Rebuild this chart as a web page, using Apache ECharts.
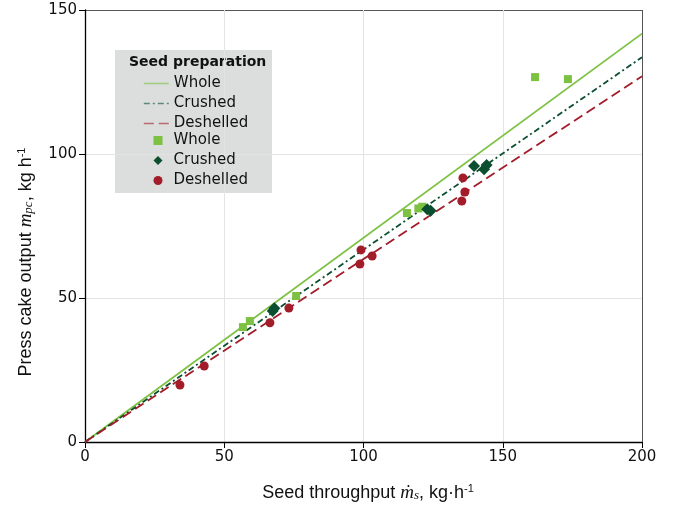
<!DOCTYPE html>
<html>
<head>
<meta charset="utf-8">
<script src="https://cdn.jsdelivr.net/npm/echarts@6/dist/echarts.min.js"></script>
<style>
  html, body { margin: 0; padding: 0; background: #fff; }
  #chart { width: 679px; height: 508px; }
</style>
</head>
<body>
<div id="chart"></div>
<script>
// fitted lines (start and end points at x = 0 and x = 200)
const fitX = [0, 200];
const fitWhole = [0, 141.8];
const fitCrushed = [0, 133.6];
const fitDeshelled = [0, 127.0];

// measured points
const wholeX = [56.7, 59.2, 75.8, 115.6, 119.7, 121.1, 161.6, 173.4];
const wholeY = [39.9, 42.0, 50.7, 79.5, 81.1, 81.7, 126.7, 126.0];
const crushedX = [67.4, 68.0, 122.9, 124.1, 139.7, 143.3, 144.2];
const crushedY = [45.5, 46.4, 80.8, 80.3, 95.8, 94.7, 96.2];
const deshelledX = [34.1, 42.8, 66.4, 73.2, 99.1, 98.7, 103.1, 135.7, 136.4, 135.3];
const deshelledY = [19.8, 26.4, 41.4, 46.5, 66.7, 61.8, 64.6, 91.7, 86.8, 83.7];

const xTicks = [0, 50, 100, 150, 200];
const yTicks = [0, 50, 100, 150];

const cWhole = "#7dc142";
const cCrushed = "#0b4f30";
const cDeshelled = "#a21c2a";

const pairs = (xs, ys) => xs.map((x, i) => [x, ys[i]]);

const chart = echarts.init(document.getElementById("chart"));

const option = {
  animation: false,
  backgroundColor: "#fff",
  grid: { left: 85, right: 37, top: 10, bottom: 66 },
  xAxis: {
    type: "value",
    min: xTicks[0],
    max: xTicks[xTicks.length - 1],
    interval: 50,
    axisLine: { lineStyle: { color: "#000", width: 1.3 } },
    axisTick: { show: true, length: 6, lineStyle: { color: "#000" } },
    axisLabel: { color: "#111", fontSize: 15, fontFamily: "DejaVu Sans", margin: 8 },
    splitLine: { show: true, lineStyle: { color: ["#e4e4e4", "#e4e4e4", "#e4e4e4", "#e4e4e4", "#555"], width: 1 } }
  },
  yAxis: {
    type: "value",
    min: yTicks[0],
    max: yTicks[yTicks.length - 1],
    interval: 50,
    axisLine: { show: true, lineStyle: { color: "#000", width: 1.3 } },
    axisTick: { show: true, length: 6, lineStyle: { color: "#000" } },
    axisLabel: { color: "#111", fontSize: 15, fontFamily: "DejaVu Sans", margin: 8 },
    splitLine: { show: true, lineStyle: { color: ["#e4e4e4", "#e4e4e4", "#e4e4e4", "#555"], width: 1 } }
  },
  legend: [
    {
      // fitted lines
      orient: "vertical",
      left: 143,
      top: 76,
      itemWidth: 25,
      itemHeight: 14,
      itemGap: 5,
      padding: 0,
      itemStyle: { opacity: 0 },
      lineStyle: { opacity: 0.6, width: 1.6 },
      data: ["Whole", "Crushed", "Deshelled"],
      textStyle: { fontSize: 15, fontFamily: "DejaVu Sans", color: "#111" }
    },
    {
      // measured points
      orient: "vertical",
      left: 153.5,
      top: 133,
      itemWidth: 9,
      itemHeight: 9,
      itemGap: 5,
      padding: 0,
      data: ["Whole ", "Crushed ", "Deshelled "],
      textStyle: { fontSize: 15, fontFamily: "DejaVu Sans", color: "#111", padding: [0, 0, 0, 6] }
    }
  ],
  graphic: [
    {
      type: "rect",
      left: 115, top: 50, z: -1,
      shape: { width: 157, height: 143 },
      style: { fill: "#dcdedd" }
    },
    {
      type: "text",
      left: 129, top: 55,
      style: { text: "Seed preparation", font: "bold 14px 'DejaVu Sans'", fill: "#111" }
    },
    {
      type: "text",
      x: 26, y: 262,
      rotation: Math.PI / 2,
      style: {
        text: "Press cake output {i|m}{sub|pc}, kg h{sup|-1}",
        align: "center",
        verticalAlign: "middle",
        font: "18px 'Liberation Sans'",
        fill: "#111",
        rich: {
          i: { fontFamily: "Liberation Serif", fontStyle: "italic", fontSize: 19, fill: "#111" },
          sub: { fontFamily: "Liberation Serif", fontStyle: "italic", fontSize: 13, fill: "#111", padding: [6, 0, 0, 0] },
          sup: { fontFamily: "Liberation Sans", fontSize: 11, fill: "#111", padding: [0, 0, 8, 0] }
        }
      }
    },
    {
      type: "text",
      x: 368, y: 493,
      style: {
        text: "Seed throughput {i|ṁ}{sub|s}, kg·h{sup|-1}",
        align: "center",
        verticalAlign: "middle",
        font: "18px 'Liberation Sans'",
        fill: "#111",
        rich: {
          i: { fontFamily: "Liberation Serif", fontStyle: "italic", fontSize: 19, fill: "#111" },
          sub: { fontFamily: "Liberation Serif", fontStyle: "italic", fontSize: 13, fill: "#111", padding: [6, 0, 0, 0] },
          sup: { fontFamily: "Liberation Sans", fontSize: 11, fill: "#111", padding: [0, 0, 8, 0] }
        }
      }
    }
  ],
  series: [
    {
      name: "Whole", type: "line", symbol: "none",
      data: pairs(fitX, fitWhole),
      lineStyle: { color: cWhole, width: 1.8 }, itemStyle: { color: cWhole }, z: 2
    },
    {
      name: "Crushed", type: "line", symbol: "none",
      data: pairs(fitX, fitCrushed),
      lineStyle: { color: cCrushed, width: 1.8, type: [6, 3, 2, 3] }, itemStyle: { color: cCrushed }, z: 2
    },
    {
      name: "Deshelled", type: "line", symbol: "none",
      data: pairs(fitX, fitDeshelled),
      lineStyle: { color: cDeshelled, width: 1.8, type: [10, 5] }, itemStyle: { color: cDeshelled }, z: 2
    },
    {
      name: "Whole ", type: "scatter", symbol: "rect", symbolSize: 8,
      data: pairs(wholeX, wholeY), itemStyle: { color: cWhole, opacity: 1 }, z: 3
    },
    {
      name: "Crushed ", type: "scatter", symbol: "diamond", symbolSize: 12,
      data: pairs(crushedX, crushedY), itemStyle: { color: cCrushed, opacity: 1 }, z: 3
    },
    {
      name: "Deshelled ", type: "scatter", symbol: "circle", symbolSize: 9,
      data: pairs(deshelledX, deshelledY), itemStyle: { color: cDeshelled, opacity: 1 }, z: 3
    }
  ]
};

chart.setOption(option);
</script>
</body>
</html>
